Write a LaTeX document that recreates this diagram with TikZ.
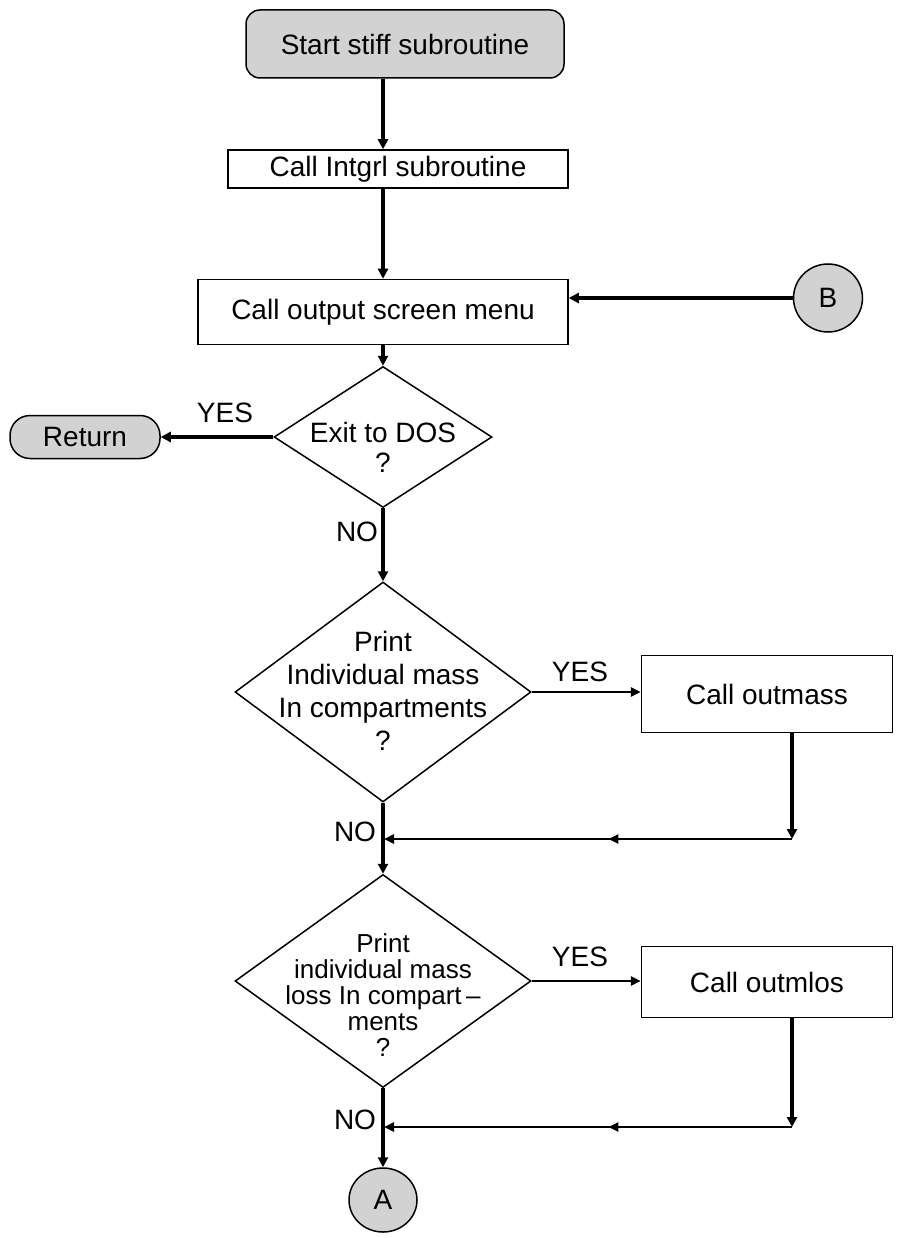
\documentclass[tikz,border=0pt]{standalone}
\usepackage{fontspec}
\setmainfont{Liberation Sans}
\usetikzlibrary{shapes.geometric,arrows.meta,decorations.markings}
\begin{document}
\begin{tikzpicture}[x=1pt,y=-1pt,
  txt/.style={font=\fontsize{28}{30}\selectfont},
  box/.style={draw,line width=1.5pt,inner sep=0pt,txt},
  term/.style={draw,line width=1.5pt,fill=gray!35,rounded corners=14pt,inner sep=0pt,txt},
  conn/.style={draw,ellipse,line width=1.5pt,fill=gray!35,inner sep=0pt,txt},
  dec/.style={draw,diamond,line width=1.5pt,inner sep=0pt},
  lbl/.style={txt,inner sep=0pt},
  flow/.style={line width=3.5pt,-{Triangle[length=10pt,width=10pt]}},
  thinflow/.style={line width=2.5pt,-{Triangle[length=10pt,width=9pt]}},
  midarrow/.style={postaction={decorate},decoration={markings,
    mark=at position 0.45 with {\arrow{Triangle[length=10pt,width=9pt]}}}}
]
\useasboundingbox (0,0) rectangle (903,1238);

% process boxes and terminals
\node[term,minimum width=318pt,minimum height=68pt] (start) at (405,44) {Start stiff subroutine};
\node[box,minimum width=340pt,minimum height=38pt] (intgrl) at (398,169) {Call Intgrl subroutine};
\node[box,minimum width=370pt,minimum height=65pt] (menu) at (383,312) {Call output screen menu};
\node[conn,minimum width=69pt,minimum height=68pt] (B) at (828,298) {B};

% decisions
\node[dec,minimum width=218pt,minimum height=141pt] (exit) at (383,437) {};
\node[lbl,align=center] (exitT) at (383,447) {Exit to DOS\\?};
\node[term,rounded corners=20pt,minimum width=150pt,minimum height=43pt] (ret) at (85,437) {Return};

\node[dec,minimum width=296pt,minimum height=220pt] (pm) at (383,692) {};
\node[lbl,align=center,font=\fontsize{28}{33}\selectfont] (pmT) at (383,691) {Print\\Individual mass\\In compartments\\?};
\node[box,minimum width=251pt,minimum height=77pt] (om) at (767,694) {Call outmass};

\node[dec,minimum width=296pt,minimum height=213pt] (pl) at (383,981) {};
\node[lbl,align=center,font=\fontsize{26}{26}\selectfont] (plT) at (383,995) {Print\\individual mass\\loss In compart\,--\\ments\\?};
\node[box,minimum width=251pt,minimum height=71pt] (ol) at (767,982) {Call outmlos};

\node[conn,minimum width=68pt,minimum height=64pt] (A) at (383,1200) {A};

% branch labels
\node[lbl] (y1) at (225,413) {YES};
\node[lbl] (n1) at (357,532) {NO};
\node[lbl] (y2) at (580,672) {YES};
\node[lbl] (n2) at (355,832) {NO};
\node[lbl] (y3) at (580,957) {YES};
\node[lbl] (n3) at (355,1120) {NO};

% join points of the return lines
\coordinate (om1) at (792,733);
\coordinate (c1) at (792,839);
\coordinate (j1) at (384,839);
\coordinate (ol1) at (792,1018);
\coordinate (c2) at (792,1127);
\coordinate (j2) at (384,1127);

% main flow
\draw[flow] (start.south -| menu.north) -- (intgrl.north -| menu.north);
\draw[flow] (intgrl.south -| menu.north) -- (menu.north);
\draw[flow] (menu.south) -- (exit.north);
\draw[flow] (B.west) -- (B.west -| menu.east);
\draw[flow] (exit.west) -- (ret.east);
\draw[flow] (exit.south) -- (pm.north);
\draw[flow] (pm.south) -- (pl.north);
\draw[flow] (pl.south) -- (A.north);

% yes branches
\draw[thinflow] (pm.east) -- (pm.east -| om.west);
\draw[thinflow] (pl.east) -- (pl.east -| ol.west);

% returns to the main line
\draw[flow] (om1) -- (c1);
\draw[thinflow,midarrow] (c1) -- (j1);
\draw[flow] (ol1) -- (c2);
\draw[thinflow,midarrow] (c2) -- (j2);
\end{tikzpicture}
\end{document}
